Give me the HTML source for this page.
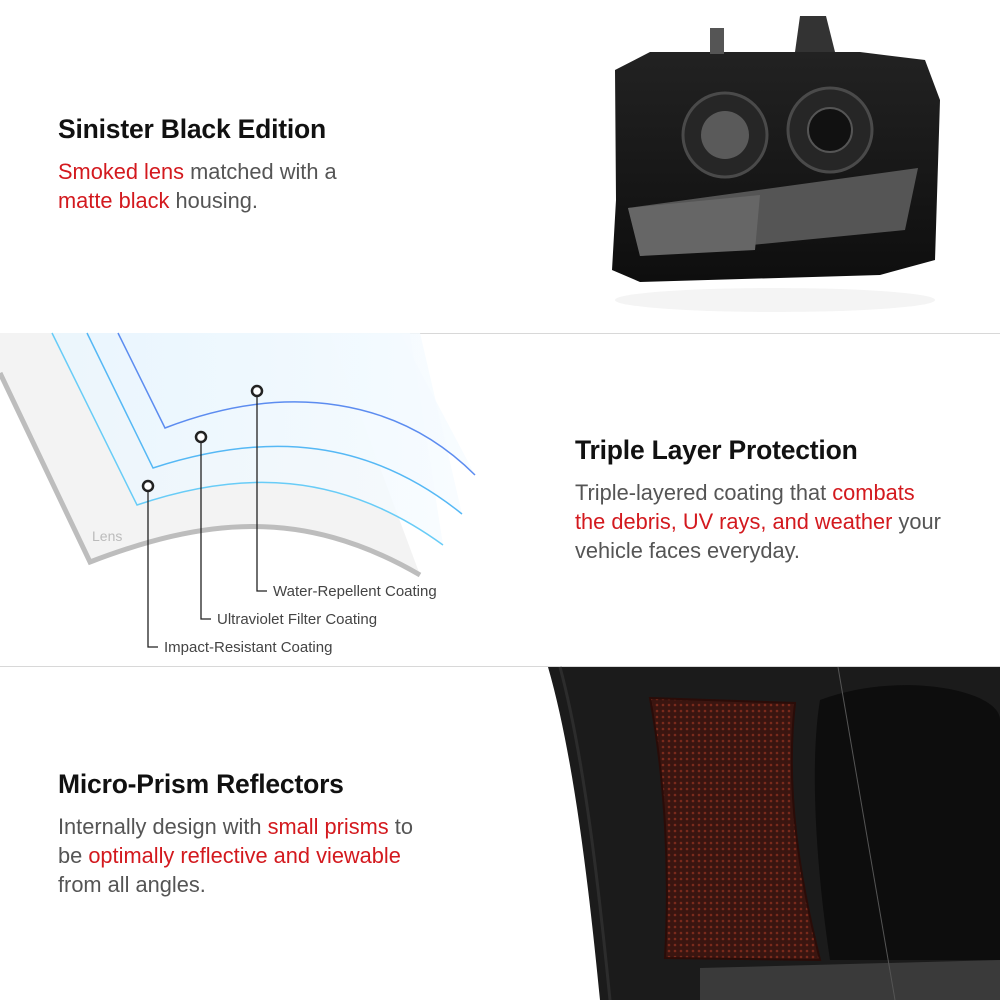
<!DOCTYPE html>
<html><head><meta charset="utf-8"><style>
body{margin:0;width:1000px;height:1000px;position:relative;background:#fff;font-family:"Liberation Sans",sans-serif;overflow:hidden}
.t{position:absolute;font-size:26.5px;color:#111;font-weight:bold;letter-spacing:-0.2px}
.b{position:absolute;font-size:21.8px;color:#555;line-height:29px}
.r{color:#d3191e}
.hr{position:absolute;left:0;width:1000px;height:1px;background:#d8d8d8}
</style></head><body>
<div class="hr" style="top:333px"></div>
<div class="hr" style="top:666px"></div>

<svg style="position:absolute;left:0;top:0" width="1000" height="1000">
<defs>
<linearGradient id="bl" x1="0" y1="0" x2="1" y2="0"><stop offset="0" stop-color="#eaf6fe"/><stop offset="1" stop-color="#f6fbff"/></linearGradient>
<linearGradient id="hl" x1="0" y1="0" x2="0" y2="1"><stop offset="0" stop-color="#222"/><stop offset="1" stop-color="#0e0e0e"/></linearGradient>
<pattern id="dots" width="6" height="6" patternUnits="userSpaceOnUse"><circle cx="3" cy="3" r="1.3" fill="#7a2a1c"/></pattern>
</defs>
<!-- headlight -->
<path d="M615,70 L650,52 L860,52 L925,60 L940,100 L935,260 L880,275 L640,282 L612,270 L616,200 Z" fill="url(#hl)"/>
<rect x="710" y="28" width="14" height="26" fill="#555"/>
<path d="M795,52 L800,16 L826,16 L835,52 Z" fill="#333"/>
<circle cx="725" cy="135" r="42" fill="#262626" stroke="#4a4a4a" stroke-width="3"/>
<circle cx="725" cy="135" r="24" fill="#5a5a5a"/>
<circle cx="830" cy="130" r="42" fill="#262626" stroke="#4a4a4a" stroke-width="3"/>
<circle cx="830" cy="130" r="22" fill="#111" stroke="#555" stroke-width="2"/>
<path d="M628,208 L918,168 L905,230 L640,256 Z" fill="#555"/>
<path d="M628,208 L760,195 L755,250 L640,256 Z" fill="#666"/>
<ellipse cx="775" cy="300" rx="160" ry="12" fill="#f4f4f4"/>
<!-- lens diagram -->
<path d="M0,333 L330,333 L420,575 C300,505 200,520 90,562 L0,373 Z" fill="#f3f3f3"/>
<path d="M0,373 L90,562 C200,520 300,505 420,575" fill="none" stroke="#bdbdbd" stroke-width="5"/>
<path d="M52,333 L410,333 L443,545 C340,470 240,470 137,505 Z" fill="url(#bl)" opacity=".8"/>
<path d="M87,333 L420,333 L462,514 C370,440 270,430 153,468 Z" fill="url(#bl)" opacity=".8"/>
<path d="M118,333 L400,333 L475,475 C400,400 290,380 165,428 Z" fill="url(#bl)" opacity=".8"/>
<path d="M52,333 L137,505 C240,470 340,470 443,545" fill="none" stroke="#68ccf7" stroke-width="1.5"/>
<path d="M87,333 L153,468 C270,430 370,440 462,514" fill="none" stroke="#55b8f5" stroke-width="1.5"/>
<path d="M118,333 L165,428 C290,380 400,400 475,475" fill="none" stroke="#5c8cf0" stroke-width="1.5"/>
<text x="92" y="541" font-size="14" fill="#bbb" font-family="Liberation Sans">Lens</text>
<g fill="none" stroke="#222" stroke-width="1.3">
<path d="M148,491 V647 H158"/><path d="M201,442 V619 H211"/><path d="M257,396 V591 H267"/>
</g>
<g fill="#fff" stroke="#222" stroke-width="2.5">
<circle cx="148" cy="486" r="5"/><circle cx="201" cy="437" r="5"/><circle cx="257" cy="391" r="5"/>
</g>
<g font-size="15" fill="#444" font-family="Liberation Sans">
<text x="164" y="652">Impact-Resistant Coating</text>
<text x="217" y="624">Ultraviolet Filter Coating</text>
<text x="273" y="596">Water-Repellent Coating</text>
</g>
<!-- tail light -->
<path d="M548,667 L1000,667 L1000,1000 L600,1000 C590,900 575,760 548,667 Z" fill="#1b1b1b"/>
<path d="M560,667 C585,760 600,900 610,1000" fill="none" stroke="#2c2c2c" stroke-width="3"/>
<path d="M820,700 C900,670 1000,690 1000,720 L1000,960 L830,960 C815,860 810,760 820,700 Z" fill="#0d0d0d"/>
<path d="M650,698 L795,703 C785,790 800,880 820,960 L665,958 C670,870 665,780 650,698 Z" fill="#3a1510"/>
<path d="M650,698 L795,703 C785,790 800,880 820,960 L665,958 C670,870 665,780 650,698 Z" fill="url(#dots)" stroke="#2a0c08" stroke-width="2"/>
<path d="M700,968 L1000,960 L1000,1000 L700,1000 Z" fill="#3a3a3a"/>
<line x1="838" y1="667" x2="895" y2="1000" stroke="#555" stroke-width="1"/>
</svg>

<div class="t" style="left:58px;top:114px">Sinister Black Edition</div>
<div class="b" style="left:58px;top:157px"><span class="r">Smoked lens</span> matched with a<br><span class="r">matte black</span> housing.</div>

<div class="t" style="left:575px;top:435px">Triple Layer Protection</div>
<div class="b" style="left:575px;top:478px">Triple-layered coating that <span class="r">combats<br>the debris, UV rays, and weather</span> your<br>vehicle faces everyday.</div>

<div class="t" style="left:58px;top:769px">Micro-Prism Reflectors</div>
<div class="b" style="left:58px;top:812px">Internally design with <span class="r">small prisms</span> to<br>be <span class="r">optimally reflective and viewable</span><br>from all angles.</div>
</body></html>
